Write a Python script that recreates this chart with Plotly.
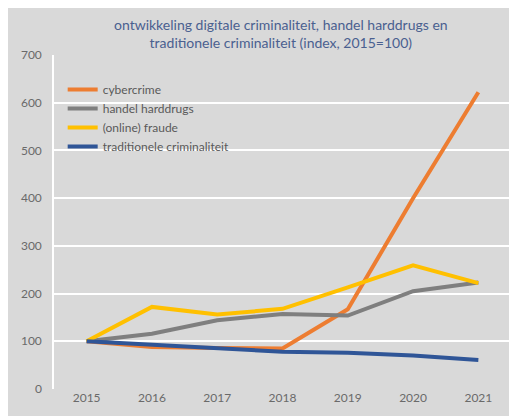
import plotly.graph_objects as go

years = ["2015", "2016", "2017", "2018", "2019", "2020", "2021"]
cybercrime = [100, 88, 86, 85, 167, 400, 622]
harddrugs = [100, 116, 144, 157, 154, 205, 223]
fraude = [100, 172, 156, 168, 213, 259, 222]
traditioneel = [100, 93, 84, 78, 76, 70, 61]

series_names = ["cybercrime", "handel harddrugs", "(online) fraude", "traditionele criminaliteit"]
series_values = [cybercrime, harddrugs, fraude, traditioneel]
colors = ["#ed7d31", "#7f7f7f", "#ffc000", "#2f5597"]

FONT = "Lato"
fig = go.Figure()
for name, vals, c in zip(series_names, series_values, colors):
    fig.add_trace(go.Scatter(x=years, y=vals, name=name, mode="lines",
                             line=dict(color=c, width=4)))

fig.update_layout(
    width=509, height=408,
    paper_bgcolor="#d9d9d9", plot_bgcolor="#d9d9d9",
    margin=dict(l=46, r=4, t=47, b=27),
    font=dict(family=FONT, size=12, color="#6a6a6a"),
    title=dict(text="ontwikkeling digitale criminaliteit, handel harddrugs en<br>traditionele criminaliteit (index, 2015=100)",
               x=0.536, xanchor="center", y=0.946, yanchor="middle",
               font=dict(family=FONT, size=14, color="#4a6090")),
    legend=dict(x=0.019, y=0.94, xanchor="left", yanchor="top",
                bgcolor="rgba(0,0,0,0)", font=dict(family=FONT, size=12, color="#595959"),
                tracegroupgap=0, itemwidth=30),
    showlegend=True,
)
fig.update_xaxes(type="category", range=[-0.5, len(years) - 0.5], showgrid=False,
                 zeroline=False, showline=False,
                 ticks="", tickfont=dict(size=12, color="#6a6a6a"))
fig.update_yaxes(range=[0, 700], dtick=100, showgrid=True, gridcolor="#ffffff", gridwidth=1.5,
                 zeroline=False, showline=True, linecolor="#ffffff", linewidth=1.5, mirror=True,
                 ticks="", ticklabelstandoff=8, tickfont=dict(size=12, color="#6a6a6a"))

fig.write_html("out.html", config={"displayModeBar": False})
